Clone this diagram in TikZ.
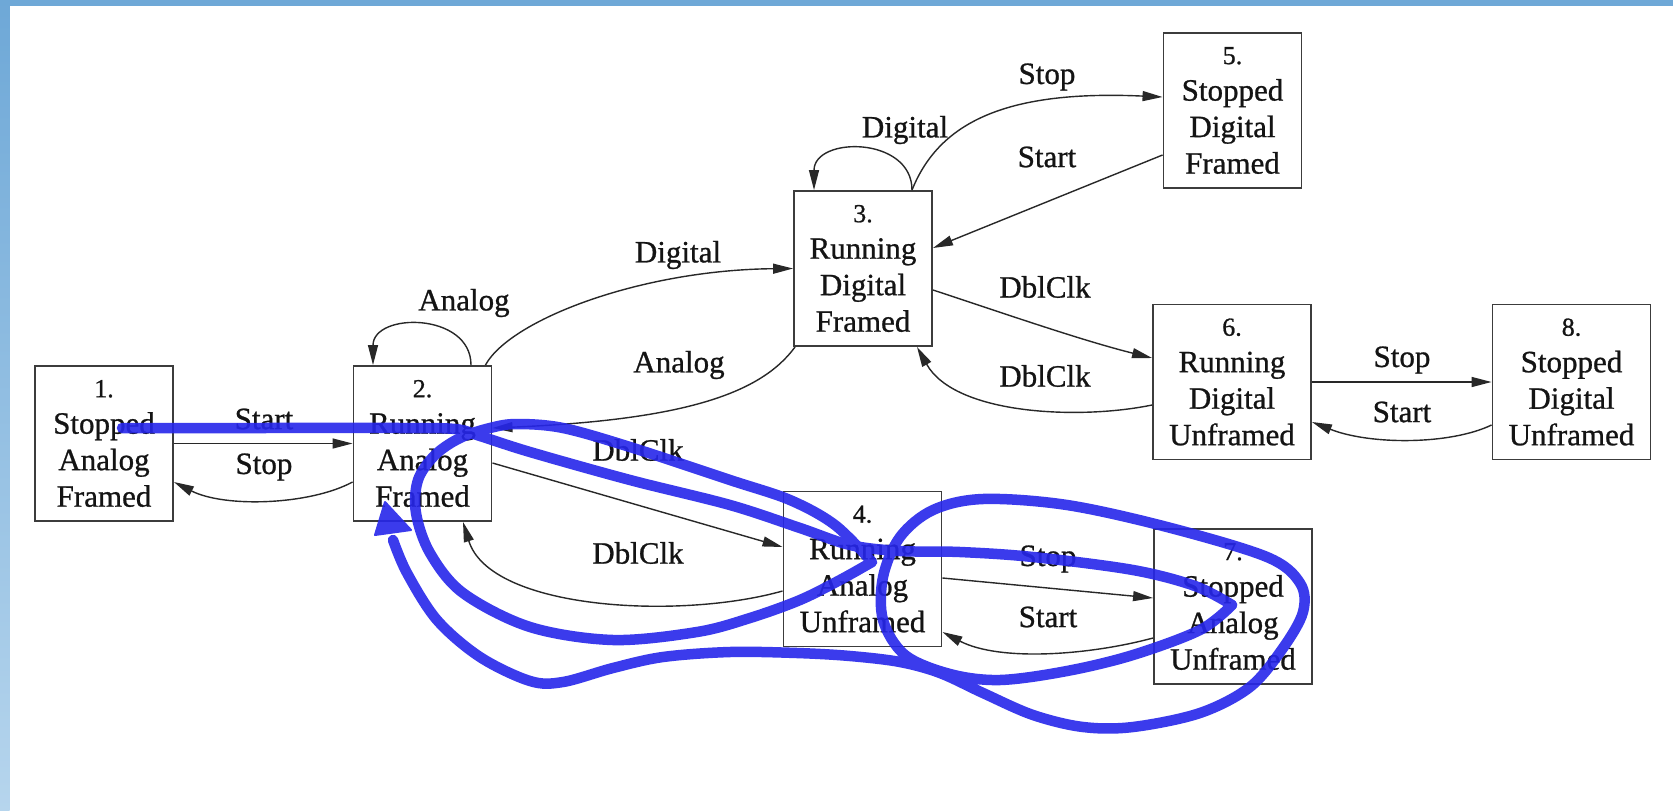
\documentclass[tikz,border=0pt]{standalone}
\usepackage{fontspec}
\setmainfont{Liberation Serif}[FakeBold=0.8]
\usetikzlibrary{arrows.meta,calc}
\definecolor{barblue}{RGB}{110,168,215}
\definecolor{barlight}{RGB}{182,213,237}
\definecolor{boxline}{RGB}{60,60,60}
\definecolor{edgeline}{RGB}{40,40,40}
\definecolor{textcol}{RGB}{20,20,20}
\definecolor{ink}{RGB}{38,38,235}
\newcommand{\numsize}{\fontsize{26}{36.5}\selectfont}

\begin{document}
\begin{tikzpicture}[x=1pt,y=-1pt,
  state/.style={draw=boxline, line width=1.9pt, minimum height=155pt,
    inner sep=0pt, align=center, text=textcol, font=\fontsize{31}{36.5}\selectfont},
  narrow/.style={minimum width=138pt},
  wide/.style={minimum width=158pt},
  edge/.style={draw=edgeline, line width=1.4pt, -{Triangle[length=20pt,width=10pt]}},
  lbl/.style={font=\fontsize{31}{36}\selectfont, text=textcol, inner sep=0pt},
  inkline/.style={draw=ink, line width=10.5pt, line cap=round, line join=round}]

\useasboundingbox (0,0) rectangle (1673,811);
\fill[white] (0,0) rectangle (1673,811);
% window frame
\fill[barblue] (0,0) rectangle (1673,5.5);
\shade[top color=barblue, bottom color=barlight] (0,0) rectangle (9.5,811);

% states
\node[state,narrow] (n1) at (104,443.5)   {{\numsize 1.}\\Stopped\\Analog\\Framed};
\node[state,narrow] (n2) at (422.5,443.5) {{\numsize 2.}\\Running\\Analog\\Framed};
\node[state,narrow] (n3) at (863,268.5)   {{\numsize 3.}\\Running\\Digital\\Framed};
\node[state,wide]   (n4) at (862.5,569)   {{\numsize 4.}\\Running\\Analog\\Unframed};
\node[state,narrow] (n5) at (1232.5,110.5){{\numsize 5.}\\Stopped\\Digital\\Framed};
\node[state,wide]   (n6) at (1232,382)    {{\numsize 6.}\\Running\\Digital\\Unframed};
\node[state,wide]   (n7) at (1233,606.5)  {{\numsize 7.}\\Stopped\\Analog\\Unframed};
\node[state,wide]   (n8) at (1571.5,382)  {{\numsize 8.}\\Stopped\\Digital\\Unframed};

% transitions
\draw[edge] (n1.east) -- (n2.west);
\draw[edge] ([yshift=-38.5pt]n2.west) .. controls (310,505) and (225,508) .. ([yshift=-38.5pt]n1.east);
\draw[edge] ([xshift=48.5pt]n2.north) .. controls (471,312) and (373,312) .. ([xshift=-49.5pt]n2.north);
\draw[edge] ([xshift=-7pt]n2.north east) .. controls (510,320) and (640,270) .. (n3.west);
\draw[edge] ([xshift=2pt]n3.south west) .. controls (760,395) and (680,420) .. ([yshift=15.5pt]n2.east);
\draw[edge] ([yshift=-19.5pt]n2.east) -- ([yshift=22pt]n4.west);
\draw[edge] ([yshift=-22pt]n4.west) .. controls (680,620) and (490,610) .. ([xshift=40.5pt]n2.south);
\draw[edge] ([xshift=49pt]n3.north) .. controls (940,120) and (1010,90) .. ([yshift=13.5pt]n5.west);
\draw[edge] ([yshift=-44.5pt]n5.west) -- ([yshift=20.5pt]n3.east);
\draw[edge] ([xshift=49pt]n3.north) .. controls (912,136) and (814,136) .. ([xshift=-49pt]n3.north);
\draw[edge] ([yshift=-21.5pt]n3.east) .. controls (1000,312) and (1080,340) .. ([yshift=24pt]n6.west);
\draw[edge] ([yshift=-23pt]n6.west) .. controls (1080,420) and (955,415) .. ([xshift=54pt]n3.south);
\draw[edge] (n6.east) -- (n8.west);
\draw[edge] ([yshift=-43pt]n8.west) .. controls (1450,445) and (1370,445) .. ([yshift=-40pt]n6.east);
\draw[edge] ([yshift=-9pt]n4.east) -- ([yshift=8.5pt]n7.west);
\draw[edge] ([yshift=-31.5pt]n7.west) .. controls (1090,655) and (1000,662) .. ([yshift=-63pt]n4.east);

% transition labels
\node[lbl] (lStartA)  at (264,419)  {Start};
\node[lbl] (lStopA)   at (264,467)  {Stop};
\node[lbl] (lAnalogA) at (464,303)  {Analog};
\node[lbl] (lDigA)    at (678,255)  {Digital};
\node[lbl] (lAnalogB) at (679,365)  {Analog};
\node[lbl] (lDblA)    at (638,450)  {DblClk};
\node[lbl] (lDblB)    at (638,553)  {DblClk};
\node[lbl] (lStopB)   at (1047,77)  {Stop};
\node[lbl] (lStartB)  at (1047,157) {Start};
\node[lbl] (lDigB)    at (905,130)  {Digital};
\node[lbl] (lDblC)    at (1045,287) {DblClk};
\node[lbl] (lDblD)    at (1045,376) {DblClk};
\node[lbl] (lStopC)   at (1402,360) {Stop};
\node[lbl] (lStartC)  at (1402,412) {Start};
\node[lbl] (lStopD)   at (1048,559) {Stop};
\node[lbl] (lStartD)  at (1048,617) {Start};

% hand-drawn blue trace
\begin{scope}[transparency group, opacity=0.9]
\draw[inkline] plot[smooth,tension=0.55] coordinates {(122,428) (250,428) (400,428) (455,429) (480,436) (530,452) (630,480) (730,505) (800,528) (850,545) (900,551) (960,552) (1033,557) (1133,570) (1195,586) (1232,605)};
\draw[inkline] plot[smooth,tension=0.55] coordinates {(1232,605) (1200,630) (1133,655) (1067,671) (1000,680) (950,674) (905,655) (883,620) (883,577) (900,537) (933,510) (983,499) (1067,505) (1167,527) (1267,557) (1300,583) (1303,612) (1283,648) (1250,687) (1200,713) (1133,727) (1083,727) (1033,715) (983,693) (940,673) (900,662) (850,656) (797,653) (730,652) (663,657) (613,668) (563,682) (530,681) (480,657) (437,620) (407,573) (393,540)};
\draw[inkline] plot[smooth,tension=0.55] coordinates {(872,562) (840,580) (800,600) (750,618) (697,632) (613,640) (530,627) (463,593) (430,553) (416,513) (418,480) (435,455) (460,438) (490,428) (517,424) (563,428) (630,447) (730,480) (790,500) (835,525) (872,562)};
\fill[ink, draw=ink, line width=2pt, line join=round] (385,502) -- (375,535) -- (411,530) -- cycle;
\end{scope}
\end{tikzpicture}
\end{document}
